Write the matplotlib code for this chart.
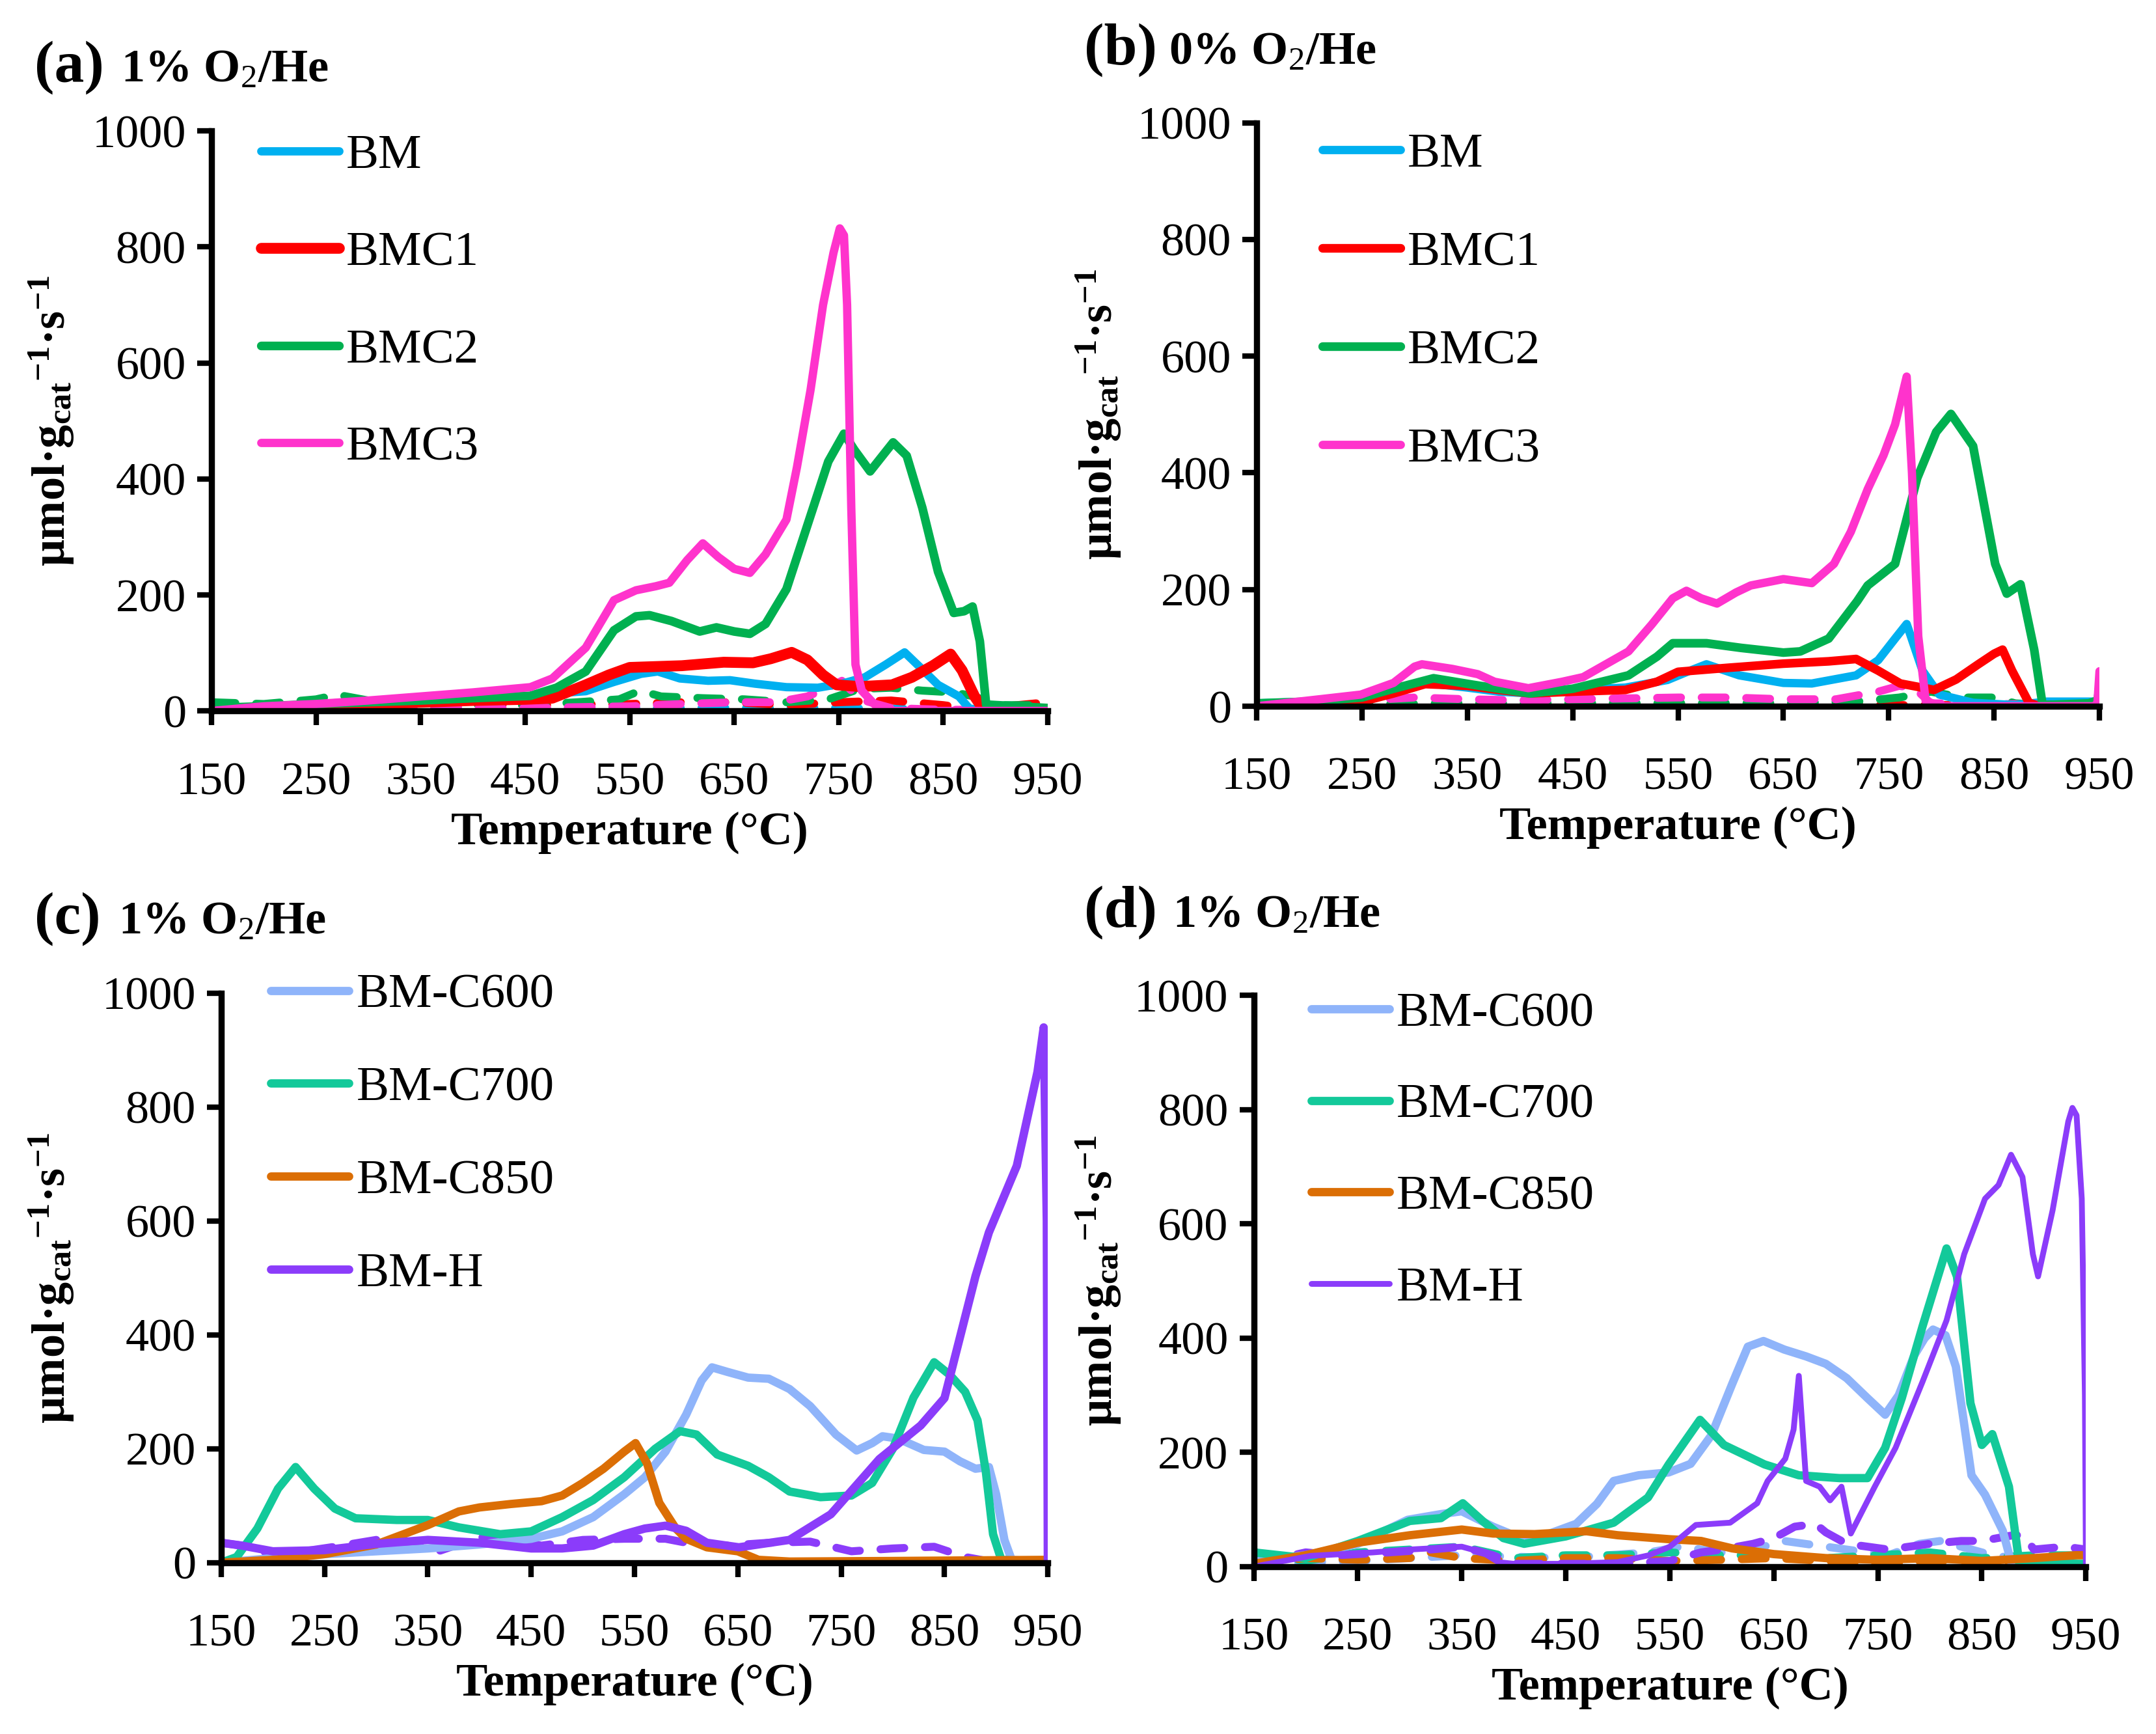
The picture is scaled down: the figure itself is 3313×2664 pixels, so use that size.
import matplotlib
matplotlib.use('Agg')
import matplotlib.pyplot as plt

plt.rcParams['font.family'] = 'Liberation Serif'
plt.rcParams['mathtext.fontset'] = 'custom'
plt.rcParams['mathtext.rm'] = 'Liberation Serif'
plt.rcParams['mathtext.bf'] = 'Liberation Serif:bold'
plt.rcParams['mathtext.it'] = 'Liberation Serif:italic'

# ---------------- data ----------------
# (a) 1% O2/He, solid
BM_a_T = [150, 200, 250, 300, 350, 400, 450, 476, 508, 535, 561, 577, 598, 625, 646, 670, 700, 730, 753, 775, 795, 813, 828, 845, 865, 875, 890, 950]
BM_a = [0, 5, 10, 12, 15, 18, 25, 30, 34, 50, 64, 68, 56, 52, 53, 47, 41, 40, 47, 58, 80, 101, 75, 45, 25, 4, 1, 0]
BMC1_a_T = [150, 200, 250, 300, 350, 400, 450, 476, 508, 530, 550, 600, 640, 668, 685, 705, 720, 735, 748, 770, 801, 820, 840, 857, 868, 880, 889, 950]
BMC1_a = [0, 5, 8, 12, 15, 18, 20, 22, 45, 62, 75, 78, 84, 83, 90, 101, 88, 62, 45, 42, 45, 58, 78, 98, 70, 25, 1, 3]
BMC2_a_T = [150, 200, 250, 300, 350, 400, 455, 480, 508, 535, 556, 569, 590, 617, 633, 650, 665, 680, 700, 720, 740, 755, 765, 780, 802, 815, 830, 845, 860, 870, 878, 885, 891, 950]
BMC2_a = [5, 8, 12, 15, 18, 22, 26, 40, 68, 139, 163, 165, 155, 137, 144, 137, 133, 150, 210, 320, 430, 478, 450, 413, 463, 440, 350, 240, 169, 172, 180, 120, 11, 5]
BMC3_a_T = [150, 200, 250, 300, 350, 400, 455, 476, 508, 535, 556, 575, 588, 605, 620, 635, 650, 665, 680, 690, 700, 710, 723, 735, 745, 751, 755, 758, 762, 766, 772, 785, 800, 950]
BMC3_a = [0, 8, 12, 18, 25, 32, 41, 56, 109, 191, 208, 215, 221, 260, 289, 265, 245, 238, 270, 300, 330, 420, 553, 700, 790, 832, 820, 700, 350, 80, 35, 10, 0, 0]
# (a) dashed
BMd_a_T = [150, 300, 450, 550, 650, 750, 850, 900, 950]
BMd_a = [2, 3, 3, 5, 5, 5, 3, 0, 0]
BMC1d_a_T = [150, 250, 350, 450, 550, 600, 650, 700, 750, 800, 850, 880, 950]
BMC1d_a = [5, 8, 10, 10, 12, 15, 15, 10, 15, 18, 10, 3, 15]
BMC2d_a_T = [150, 200, 250, 270, 300, 350, 400, 450, 500, 540, 560, 580, 620, 660, 700, 740, 770, 800, 830, 860, 880, 900, 950]
BMC2d_a = [15, 12, 20, 28, 18, 15, 12, 10, 15, 20, 35, 25, 22, 20, 15, 20, 38, 40, 35, 32, 25, 10, 10]
BMC3d_a_T = [150, 250, 350, 450, 550, 600, 650, 690, 720, 740, 753, 770, 800, 850, 950]
BMC3d_a = [0, 3, 5, 5, 8, 12, 15, 15, 25, 40, 52, 20, 5, 2, 2]

# (b) 0% O2/He, solid
BM_b_T = [150, 200, 250, 280, 310, 350, 380, 410, 450, 500, 540, 560, 577, 608, 650, 677, 719, 740, 756, 767, 782, 798, 830, 870, 900, 950]
BM_b = [5, 8, 12, 25, 40, 32, 25, 22, 28, 32, 45, 60, 72, 53, 40, 39, 53, 79, 116, 141, 61, 20, 6, 2, 8, 8]
BMC1_b_T = [150, 200, 250, 280, 310, 350, 380, 410, 450, 500, 530, 550, 598, 650, 693, 719, 740, 761, 793, 814, 835, 850, 858, 867, 883, 890, 950]
BMC1_b = [0, 3, 8, 22, 38, 35, 28, 22, 25, 28, 42, 59, 66, 73, 77, 81, 61, 39, 28, 46, 72, 90, 97, 61, 6, 2, 2]
BMC2_b_T = [150, 200, 250, 280, 318, 355, 380, 410, 450, 503, 530, 545, 577, 610, 650, 666, 693, 720, 730, 756, 777, 795, 809, 830, 851, 862, 875, 888, 896, 940, 948, 950]
BMC2_b = [5, 8, 15, 30, 48, 37, 30, 22, 30, 53, 85, 108, 108, 100, 92, 94, 116, 180, 207, 244, 391, 470, 501, 446, 244, 193, 209, 97, 2, 5, 10, 30]
BMC3_b_T = [150, 200, 249, 280, 300, 307, 336, 360, 376, 408, 440, 460, 503, 525, 545, 558, 572, 587, 605, 619, 650, 677, 698, 714, 730, 745, 756, 767, 772, 778, 785, 800, 945, 948, 950]
BMC3_b = [0, 10, 20, 40, 68, 72, 64, 55, 42, 31, 42, 50, 94, 140, 185, 198, 185, 176, 195, 207, 218, 211, 244, 299, 372, 430, 483, 565, 400, 120, 9, 0, 0, 5, 60]
# (b) dashed
BMd_b_T = [150, 550, 950]
BMd_b = [0, 1, 1]
BMC1d_b_T = [150, 350, 550, 750, 950]
BMC1d_b = [0, 2, 2, 2, 2]
BMC2d_b_T = [150, 250, 350, 450, 550, 650, 720, 760, 790, 820, 850, 870, 900, 950]
BMC2d_b = [0, 3, 5, 5, 5, 5, 8, 15, 25, 15, 15, 5, 2, 2]
BMC3d_b_T = [150, 250, 300, 350, 400, 450, 550, 600, 650, 700, 740, 760, 775, 790, 950]
BMC3d_b = [2, 10, 15, 12, 10, 12, 15, 15, 12, 12, 25, 35, 30, 5, 2]

# (c) 1% O2/He, solid
C600_c_T = [150, 200, 250, 300, 350, 400, 450, 480, 510, 540, 560, 580, 600, 615, 625, 640, 660, 680, 700, 720, 745, 765, 780, 790, 805, 830, 850, 865, 880, 893, 900, 908, 915, 950]
C600_c = [0, 8, 15, 20, 25, 32, 42, 55, 80, 120, 150, 195, 260, 320, 343, 335, 325, 323, 305, 275, 225, 197, 210, 222, 218, 198, 195, 178, 165, 168, 120, 40, 5, 0]
C700_c_T = [150, 165, 185, 205, 222, 240, 260, 280, 320, 350, 380, 420, 450, 480, 510, 540, 570, 594, 610, 630, 660, 680, 700, 730, 760, 780, 800, 820, 840, 855, 870, 882, 890, 897, 905, 950]
C700_c = [0, 10, 60, 130, 168, 130, 95, 78, 75, 75, 62, 50, 55, 80, 110, 150, 200, 231, 225, 190, 170, 150, 125, 115, 118, 140, 200, 290, 352, 330, 300, 250, 160, 50, 5, 0]
C850_c_T = [150, 200, 250, 300, 350, 380, 400, 430, 460, 480, 500, 520, 540, 551, 562, 574, 590, 600, 620, 650, 670, 700, 800, 950]
C850_c = [0, 5, 15, 32, 66, 90, 97, 103, 108, 118, 140, 165, 195, 210, 175, 105, 60, 42, 27, 20, 5, 2, 3, 5]
BMH_c_T = [150, 170, 200, 250, 300, 350, 400, 450, 480, 510, 540, 560, 580, 600, 620, 651, 700, 740, 787, 827, 850, 880, 893, 920, 940, 946, 949, 950]
BMH_c = [35, 30, 20, 22, 33, 40, 35, 25, 25, 30, 50, 60, 65, 56, 35, 27, 40, 85, 182, 241, 289, 503, 580, 697, 862, 940, 600, 0]
# (c) dashed
BMHd_c_T = [150, 170, 200, 230, 260, 300, 330, 360, 400, 430, 460, 500, 540, 580, 600, 640, 680, 720, 760, 800, 840, 870, 900, 950]
BMHd_c = [35, 30, 15, 20, 28, 40, 35, 20, 45, 40, 30, 40, 42, 42, 35, 30, 35, 37, 20, 25, 28, 10, 0, 0]

# (d) 1% O2/He, solid
C600_d_T = [150, 200, 250, 298, 330, 350, 380, 400, 430, 460, 480, 496, 520, 549, 570, 590, 610, 625, 640, 660, 681, 700, 720, 740, 757, 770, 785, 795, 803, 815, 825, 840, 853, 870, 879, 950]
C600_d = [10, 20, 40, 82, 92, 97, 70, 55, 55, 75, 110, 150, 160, 165, 180, 230, 320, 385, 395, 380, 368, 355, 330, 295, 266, 300, 370, 400, 415, 405, 350, 160, 126, 63, 2, 0]
C700_d_T = [150, 175, 200, 250, 300, 330, 351, 370, 390, 410, 450, 496, 529, 549, 579, 602, 641, 674, 713, 740, 757, 773, 793, 816, 826, 839, 850, 860, 876, 886, 950]
C700_d = [25, 20, 15, 45, 80, 85, 111, 80, 50, 40, 53, 77, 121, 179, 257, 213, 179, 160, 155, 155, 208, 295, 421, 557, 508, 286, 213, 232, 140, 5, 5]
C850_d_T = [150, 200, 250, 300, 350, 380, 420, 470, 500, 550, 580, 610, 650, 700, 750, 800, 850, 900, 940, 950]
C850_d = [5, 20, 42, 55, 65, 58, 57, 62, 55, 48, 45, 32, 22, 15, 12, 15, 10, 15, 20, 20]
BMH_d_T = [150, 205, 265, 300, 350, 370, 385, 400, 450, 500, 530, 550, 575, 608, 634, 644, 661, 669, 674, 681, 694, 704, 715, 724, 747, 767, 793, 816, 833, 853, 866, 878, 889, 899, 904, 918, 933, 937, 941, 946, 949, 950]
BMH_d = [0, 19, 25, 30, 35, 25, 8, 5, 5, 8, 20, 35, 73, 77, 111, 150, 189, 240, 334, 150, 140, 116, 140, 58, 140, 208, 324, 431, 547, 644, 668, 721, 682, 547, 508, 624, 779, 803, 790, 644, 300, 0]
# (d) dashed
C600d_d_T = [150, 250, 350, 450, 530, 560, 600, 640, 660, 680, 720, 760, 790, 810, 830, 860, 900, 950]
C600d_d = [5, 10, 20, 15, 25, 35, 25, 35, 45, 40, 30, 20, 40, 45, 35, 20, 10, 5]
C700d_d_T = [150, 200, 250, 300, 350, 400, 450, 500, 550, 600, 650, 700, 750, 800, 850, 900, 950]
C700d_d = [25, 10, 25, 30, 35, 15, 20, 20, 25, 20, 20, 15, 20, 25, 15, 20, 20]
C850d_d_T = [150, 200, 250, 300, 320, 350, 400, 450, 500, 550, 600, 650, 700, 750, 800, 850, 900, 950]
C850d_d = [5, 15, 12, 15, 25, 15, 10, 15, 15, 10, 12, 15, 10, 5, 10, 10, 5, 5]
BMHd_d_T = [150, 200, 230, 280, 320, 350, 380, 400, 450, 500, 550, 580, 600, 630, 650, 670, 690, 700, 720, 760, 800, 830, 850, 880, 890, 900, 930, 950]
BMHd_d = [5, 25, 20, 25, 30, 35, 20, 5, 5, 5, 10, 25, 30, 40, 50, 70, 75, 60, 40, 30, 40, 45, 45, 55, 55, 30, 35, 30]

x_ticks = [150, 250, 350, 450, 550, 650, 750, 850, 950]
y_ticks = [0, 200, 400, 600, 800, 1000]

c_BM, c_BMC1, c_BMC2, c_BMC3 = '#00B0F0', '#FF0000', '#00B050', '#FF33CC'
c_600, c_700, c_850, c_H = '#8FB4FA', '#13C99A', '#DB6E05', '#8B3CFA'

# panels: (axes rect, tag, gas, tag pos, gas pos, ylabel x, solids, dashed, legend anchor, legend spacing)
panels = [
    ([0.0981, 0.590, 0.3879, 0.3345], '(a)', '1% O$_2$/He', (0.016, 0.953), (0.056, 0.953), 0.024,
     [('BM', BM_a_T, BM_a, c_BM, 4.6), ('BMC1', BMC1_a_T, BMC1_a, c_BMC1, 6.0),
      ('BMC2', BMC2_a_T, BMC2_a, c_BMC2, 4.8), ('BMC3', BMC3_a_T, BMC3_a, c_BMC3, 4.6)],
     [(BMd_a_T, BMd_a, c_BM), (BMC1d_a_T, BMC1d_a, c_BMC1),
      (BMC2d_a_T, BMC2d_a, c_BMC2), (BMC3d_a_T, BMC3d_a, c_BMC3)],
     (0.059, 0.995), 1.08),
    ([0.5828, 0.5927, 0.3910, 0.3365], '(b)', '0% O$_2$/He', (0.503, 0.963), (0.542, 0.963), 0.5095,
     [('BM', BM_b_T, BM_b, c_BM, 4.6), ('BMC1', BMC1_b_T, BMC1_b, c_BMC1, 4.8),
      ('BMC2', BMC2_b_T, BMC2_b, c_BMC2, 4.8), ('BMC3', BMC3_b_T, BMC3_b, c_BMC3, 4.6)],
     [(BMd_b_T, BMd_b, c_BM), (BMC1d_b_T, BMC1d_b, c_BMC1),
      (BMC2d_b_T, BMC2d_b, c_BMC2), (BMC3d_b_T, BMC3d_b, c_BMC3)],
     (0.078, 0.983), 1.10),
    ([0.1026, 0.0988, 0.3834, 0.3284], '(c)', '1% O$_2$/He', (0.016, 0.4617), (0.055, 0.4617), 0.024,
     [('BM-C600', C600_c_T, C600_c, c_600, 4.6), ('BM-C700', C700_c_T, C700_c, c_700, 4.6),
      ('BM-C850', C850_c_T, C850_c, c_850, 4.6), ('BM-H', BMH_c_T, BMH_c, c_H, 4.6)],
     [(BMHd_c_T, BMHd_c, c_H)],
     (0.06, 1.035), 0.99),
    ([0.5815, 0.0965, 0.3860, 0.3295], '(d)', '1% O$_2$/He', (0.503, 0.4655), (0.544, 0.4655), 0.5095,
     [('BM-C600', C600_d_T, C600_d, c_600, 4.6), ('BM-C700', C700_d_T, C700_d, c_700, 4.6),
      ('BM-C850', C850_d_T, C850_d, c_850, 4.6), ('BM-H', BMH_d_T, BMH_d, c_H, 3.2)],
     [(C600d_d_T, C600d_d, c_600), (C700d_d_T, C700d_d, c_700),
      (C850d_d_T, C850d_d, c_850), (BMHd_d_T, BMHd_d, c_H)],
     (0.069, 1.006), 0.96),
]

ylab = 'μmol·g$_{\\mathbf{cat}}$$^{\\mathbf{-1}}$·s$^{\\mathbf{-1}}$'

fig = plt.figure(figsize=(16.565, 13.32), dpi=200)

for rect, tag, gas, tagpos, gaspos, ylx, solids, dashes, legpos, lspace in panels:
    ax = fig.add_axes(rect)
    # dashed series under the solid ones
    for T, v, c in dashes:
        ax.plot(T, v, color=c, lw=4.4, linestyle=(0, (3.0, 2.6)), dash_capstyle='round', zorder=2)
    for name, T, v, c, lw in solids:
        ax.plot(T, v, color=c, lw=lw, label=name, solid_capstyle='round',
                solid_joinstyle='round', zorder=3)

    ax.set_xlim(150, 950)
    ax.set_ylim(0, 1000)
    ax.set_xticks(x_ticks)
    ax.set_yticks(y_ticks)
    for s in ['top', 'right']:
        ax.spines[s].set_visible(False)
    for s in ['left', 'bottom']:
        ax.spines[s].set_linewidth(3.4)
        ax.spines[s].set_zorder(4)
    ax.tick_params(axis='both', direction='out', length=8, width=3, labelsize=26)
    ax.tick_params(axis='x', pad=20)
    ax.tick_params(axis='y', pad=6)
    ax.set_xlabel('Temperature (°C)', fontsize=26, fontweight='bold', labelpad=4)

    leg = ax.legend(loc='upper left', bbox_to_anchor=legpos, frameon=False, fontsize=27,
                    handlelength=1.6, handletextpad=0.15, labelspacing=lspace,
                    borderpad=0, borderaxespad=0)

    fig.text(tagpos[0], tagpos[1], tag, fontsize=33, fontweight='bold', va='baseline')
    fig.text(gaspos[0], gaspos[1], gas, fontsize=26, fontweight='bold', va='baseline')
    fig.text(ylx, rect[1] + rect[3] / 2, ylab, fontsize=26, fontweight='bold',
             rotation=90, ha='center', va='center')

fig.savefig('out.png', dpi=200)
